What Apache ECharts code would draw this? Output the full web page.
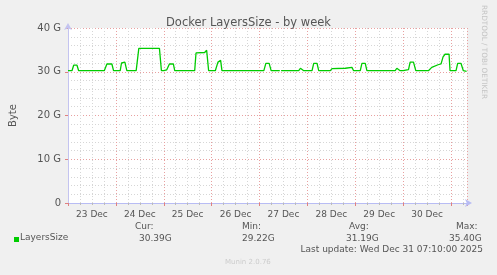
<!DOCTYPE html>
<html><head><meta charset="utf-8">
<script src="https://cdn.jsdelivr.net/npm/echarts@6/dist/echarts.min.js"></script>
<style>html,body{margin:0;padding:0;background:#f0f0f0}#c{width:497px;height:275px}</style>
</head><body><div id="c"></div>
<script>
// hours since 23 Dec 00:00
const hours = [0,2,2.85,4.5,5.35,18.17,19.5,22,22.83,26.17,26.83,28.5,29.5,34.17,35.5,45.83,46.83,
  48,49.5,50.83,52.83,53.5,63.5,64.17,68.5,69.5,70.5,73.83,75.17,76.5,77.17,
  94,94.5,95,98.17,99.17,100.83,101.83,106.17,106.5,106.83,115.67,116.5,117.33,118.17,
  122.33,123.17,124.83,125.67,131.5,132.33,139,139.83,142.33,143.17,146.5,147.33,149,149.83,
  164,164.83,165.67,166.5,168,169,170.67,171.5,173.17,174.33,180.67,182.33,185.5,187,188,189,191,191.5,
  194.5,195.33,197,198.17,199.8];
const sizeG = [30.24,30.24,31.5,31.5,30.24,30.24,31.77,31.77,30.24,30.24,32.0,32.2,30.24,30.24,35.35,35.35,30.24,
  30.24,30.45,31.77,31.77,30.24,30.24,34.3,34.4,34.9,30.24,30.24,32.2,32.6,30.24,
  30.24,29.9,30.24,30.24,31.9,31.9,30.24,30.24,null,30.24,30.24,30.8,30.8,30.24,
  30.24,31.9,31.9,30.24,30.24,30.7,30.8,31.0,31.0,30.24,30.24,31.9,31.9,30.24,
  30.24,30.8,30.8,30.24,30.24,30.5,30.5,32.2,32.2,30.24,30.24,31.0,31.6,31.8,33.4,34.0,34.05,30.24,
  30.24,31.9,31.9,30.24,30.1];
const dayLabels = ['23 Dec','24 Dec','25 Dec','26 Dec','27 Dec','28 Dec','29 Dec','30 Dec'];
const yTicks = [0,10,20,30,40];
const statNames = ['Cur:','Min:','Avg:','Max:'];
const statValues = ['30.39G','29.22G','31.19G','35.40G'];
const seriesName = 'LayersSize';
const lastUpdate = 'Last update: Wed Dec 31 07:10:00 2025';

const F = 'DejaVu Sans';
const TC = '#555';
const data = hours.map((h,i)=>[h, sizeG[i]]);
const chart = echarts.init(document.getElementById('c'), null, {renderer:'canvas'});
const statX = [[135,139],[242,242],[349,346],[456,449]];
const graphics = [
  {type:'rect', shape:{x:14,y:237,width:5,height:5}, style:{fill:'#00cc00'}},
  {type:'text', left:20, top:233, style:{text:seriesName, font:'9px '+F, fill:TC}},
  {type:'text', right:14, top:245, style:{text:lastUpdate, font:'9px '+F, fill:TC}},
  {type:'text', left:225, top:259, style:{text:'Munin 2.0.76', font:'7px '+F, fill:'#ccc'}},
  {type:'text', x:487, y:5, rotation:-Math.PI/2, style:{text:'RRDTOOL / TOBI OETIKER', font:'7.3px '+F, fill:'#c4c4c4'}}
];
statNames.forEach((n,i)=>{
  graphics.push({type:'text', x:statX[i][0], y:222, style:{text:n, font:'9px '+F, fill:TC}});
  graphics.push({type:'text', x:statX[i][1], y:234, style:{text:statValues[i], font:'9px '+F, fill:TC}});
});
chart.setOption({
  backgroundColor:'#f0f0f0',
  animation:false,
  title:{text:'Docker LayersSize - by week', left:'center', top:12, textStyle:{fontFamily:F, fontSize:11.5, fontWeight:'normal', color:TC}},
  grid:{left:67, top:28, width:400, height:175, show:true, backgroundColor:'#fff', borderWidth:0},
  xAxis:[{
    type:'value', min:0, max:200, interval:24,
    axisLine:{show:true, lineStyle:{color:'#b8bcf4'}, symbol:['none','arrow'], symbolSize:[6,7], symbolOffset:[0,5]},
    axisTick:{show:true, length:3, inside:false, lineStyle:{color:'#e08080'}},
    axisLabel:{show:false},
    splitLine:{show:true, lineStyle:{color:'#e8a0a0', type:[1,2], width:1}},
    minorTick:{show:true, splitNumber:4, length:2, lineStyle:{color:'#bbb'}},
    minorSplitLine:{show:true, lineStyle:{color:'#d6d6d6', type:[1,2], width:1}}
  },{
    type:'value', min:0, max:200, interval:12, position:'bottom',
    axisLine:{show:false}, axisTick:{show:false}, splitLine:{show:false},
    axisLabel:{show:true, margin:7, fontFamily:F, fontSize:9, color:TC,
      formatter:v=> (v%24===12) ? (dayLabels[(v-12)/24]||'') : ''}
  }],
  yAxis:{
    type:'value', min:0, max:40, interval:10,
    name:'Byte', nameLocation:'middle', nameGap:50, nameRotate:90,
    nameTextStyle:{fontFamily:F, fontSize:10, color:TC},
    axisLine:{show:true, lineStyle:{color:'#c4c4f0'}, symbol:['none','arrow'], symbolSize:[6,7], symbolOffset:[0,5]},
    axisTick:{show:true, length:3, lineStyle:{color:'#e08080'}},
    axisLabel:{margin:7, fontFamily:F, fontSize:10, color:TC, formatter:v=> yTicks.includes(v) ? (v===0?'0':v+' G') : ''},
    splitLine:{show:true, lineStyle:{color:'#e8a0a0', type:[1,2], width:1}},
    minorTick:{show:false, splitNumber:5},
    minorSplitLine:{show:true, lineStyle:{color:'#d6d6d6', type:[1,2], width:1}}
  },
  series:[{type:'line', name:seriesName, data:data, showSymbol:false, connectNulls:false,
    lineStyle:{color:'#00cc00', width:1.3}, itemStyle:{color:'#00cc00'}}],
  graphic:graphics
});
</script></body></html>
